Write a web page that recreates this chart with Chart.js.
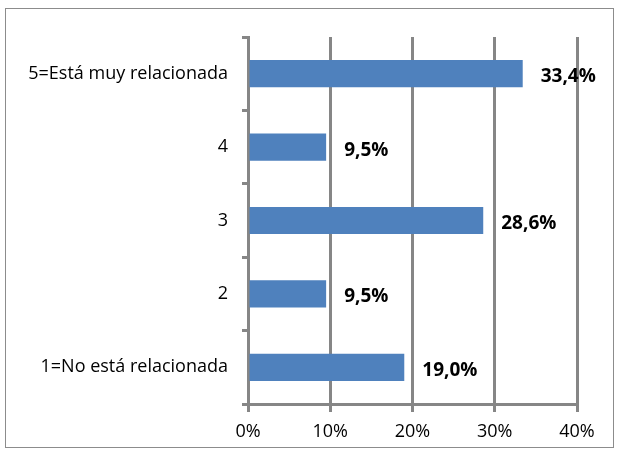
<!DOCTYPE html>
<html>
<head>
<meta charset="utf-8">
<script src="https://cdn.jsdelivr.net/npm/chart.js@4"></script>
<style>
html,body{margin:0;padding:0;background:#fff;}
#wrap{width:619px;height:455px;position:relative;}
</style>
</head>
<body>
<div id="wrap"><canvas id="c" width="619" height="455"></canvas></div>
<script>
const categories = ["5=Está muy relacionada", "4", "3", "2", "1=No está relacionada"];
const values = [33.4, 9.5, 28.6, 9.5, 19.0];
const valueLabels = ["33,4%", "9,5%", "28,6%", "9,5%", "19,0%"];
const xTicks = [0, 10, 20, 30, 40];

const FONT = "'Open Sans', Lato, sans-serif";
const GRID = "#868686";

const borderPlugin = {
  id: 'outerBorder',
  beforeDraw(chart) {
    const ctx = chart.ctx;
    ctx.save();
    ctx.fillStyle = '#fff';
    ctx.fillRect(0, 0, chart.width, chart.height);
    ctx.strokeStyle = '#8c8c8c';
    ctx.lineWidth = 1;
    ctx.strokeRect(5.5, 8.5, 608, 439);
    ctx.restore();
  }
};

const labelPlugin = {
  id: 'valueLabels',
  afterDatasetsDraw(chart) {
    const ctx = chart.ctx;
    const meta = chart.getDatasetMeta(0);
    ctx.save();
    ctx.font = "bold 19px " + FONT;
    ctx.fillStyle = '#000';
    ctx.textAlign = 'left';
    ctx.textBaseline = 'middle';
    meta.data.forEach((bar, i) => {
      ctx.fillText(valueLabels[i], bar.x + 18, bar.y + 3);
    });
    ctx.restore();
  }
};

new Chart(document.getElementById('c'), {
  type: 'bar',
  data: {
    labels: categories,
    datasets: [{
      data: values,
      backgroundColor: '#4F81BD',
      borderWidth: 0,
      barPercentage: 0.37,
      categoryPercentage: 1.0
    }]
  },
  options: {
    indexAxis: 'y',
    responsive: false,
    animation: false,
    devicePixelRatio: 1,
    layout: { padding: { left: 0, top: 37, right: 42, bottom: 0 } },
    plugins: { legend: { display: false }, tooltip: { enabled: false } },
    scales: {
      x: {
        type: 'linear',
        min: 0, max: 40,
        afterBuildTicks(scale) { scale.ticks = xTicks.map(v => ({ value: v })); },
        afterFit(scale) { scale.height = 51; },
        ticks: {
          callback: v => v + '%',
          font: { family: FONT, size: 18 },
          color: '#000',
          padding: 9
        },
        grid: { color: GRID, lineWidth: 3, tickLength: 8, drawTicks: true },
        border: { display: true, color: GRID, width: 3 }
      },
      y: {
        afterFit(scale) { scale.width = 248; },
        ticks: {
          font: { family: FONT, size: 18 },
          color: '#000',
          padding: 14
        },
        grid: { offset: true, drawOnChartArea: false, drawTicks: true, tickLength: 6, color: GRID, lineWidth: 3 },
        border: { display: true, color: GRID, width: 3 }
      }
    }
  },
  plugins: [borderPlugin, labelPlugin]
});
</script>
</body>
</html>
